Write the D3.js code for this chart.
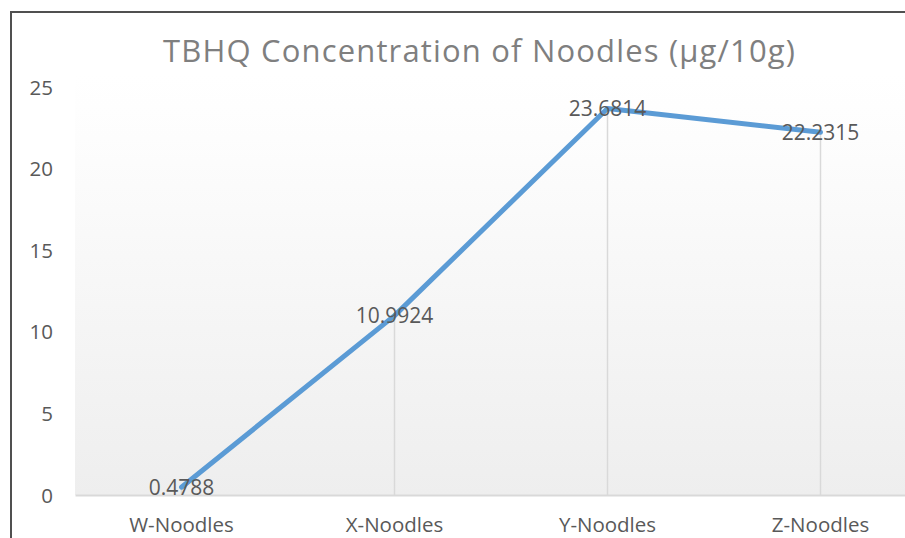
<!DOCTYPE html>
<html>
<head>
<meta charset="utf-8">
<script src="https://cdn.jsdelivr.net/npm/d3@7"></script>
<style>
  html, body { margin: 0; padding: 0; background: #ffffff; overflow: hidden; }
  svg { display: block; }
  text { font-family: "Open Sans", "Noto Sans", sans-serif; }
</style>
</head>
<body>
<svg id="chart" width="905" height="538"></svg>
<script>
const title = "TBHQ Concentration of Noodles (µg/10g)";
const categories = ["W-Noodles", "X-Noodles", "Y-Noodles", "Z-Noodles"];
const values = [0.4788, 10.9924, 23.6814, 22.2315];
const valueLabels = ["0.4788", "10.9924", "23.6814", "22.2315"];
const yTicks = [0, 5, 10, 15, 20, 25];

const svg = d3.select("#chart");
const W = 905, H = 538;
const plot = { left: 75, right: 927, top: 75, bottom: 495 };

const x = d3.scaleBand().domain(categories).range([plot.left, plot.right]).padding(0);
const cx = c => x(c) + x.bandwidth() / 2;
const y = d3.scaleLinear().domain([0, 25]).range([495, 87]);

// background gradient of plot area
const defs = svg.append("defs");
const grad = defs.append("linearGradient").attr("id", "bg").attr("x1", 0).attr("y1", 0).attr("x2", 0).attr("y2", 1);
grad.append("stop").attr("offset", "0%").attr("stop-color", "#ffffff");
grad.append("stop").attr("offset", "15%").attr("stop-color", "#fdfdfd");
grad.append("stop").attr("offset", "100%").attr("stop-color", "#eeeeee");
svg.append("rect").attr("x", plot.left).attr("y", plot.top)
  .attr("width", plot.right - plot.left).attr("height", plot.bottom - plot.top)
  .attr("fill", "url(#bg)");

// title
svg.append("text").attr("x", 479).attr("y", 62).attr("text-anchor", "middle")
  .attr("font-size", 31).attr("fill", "#7f7f7f")
  .attr("textLength", 632).attr("lengthAdjust", "spacing")
  .text(title);

// y axis (labels only)
const yAxis = d3.axisLeft(y).tickValues(yTicks).tickSize(0).tickPadding(0).tickFormat(d3.format("d"));
const gy = svg.append("g").attr("transform", "translate(53,0)").call(yAxis);
gy.select(".domain").remove();
gy.selectAll("text").attr("font-size", 20.5).attr("fill", "#595959")
  .attr("font-family", "Open Sans, sans-serif").attr("dy", "0.35em");

// drop lines
const data = categories.map((c, i) => ({ c, v: values[i], label: valueLabels[i] }));
svg.append("g").selectAll("line").data(data).join("line")
  .attr("x1", d => cx(d.c)).attr("x2", d => cx(d.c))
  .attr("y1", d => y(d.v)).attr("y2", y(0))
  .attr("stroke", "#d9d9d9").attr("stroke-width", 1.5);

// x axis
const xAxis = d3.axisBottom(x).tickSize(0).tickPadding(0);
const gx = svg.append("g").attr("transform", `translate(0,${y(0)})`).call(xAxis);
gx.select(".domain").attr("stroke", "#d9d9d9").attr("stroke-width", 2);
gx.selectAll("text").attr("font-size", 20.5).attr("fill", "#595959")
  .attr("font-family", "Open Sans, sans-serif").attr("dy", 0).attr("y", 37);

// line
const line = d3.line().x(d => cx(d.c)).y(d => y(d.v));
svg.append("path").datum(data).attr("d", line)
  .attr("fill", "none").attr("stroke", "#5b9bd5").attr("stroke-width", 5)
  .attr("stroke-linejoin", "round").attr("stroke-linecap", "round");

// data labels
svg.append("g").selectAll("text").data(data).join("text")
  .attr("x", d => cx(d.c)).attr("y", d => y(d.v)).attr("dy", "0.35em")
  .attr("text-anchor", "middle").attr("font-size", 21).attr("fill", "#595959")
  .text(d => d.label);

// border
svg.append("path").attr("d", `M11,${H} L11,12 L${W},12`)
  .attr("fill", "none").attr("stroke", "#505050").attr("stroke-width", 2);
</script>
</body>
</html>
